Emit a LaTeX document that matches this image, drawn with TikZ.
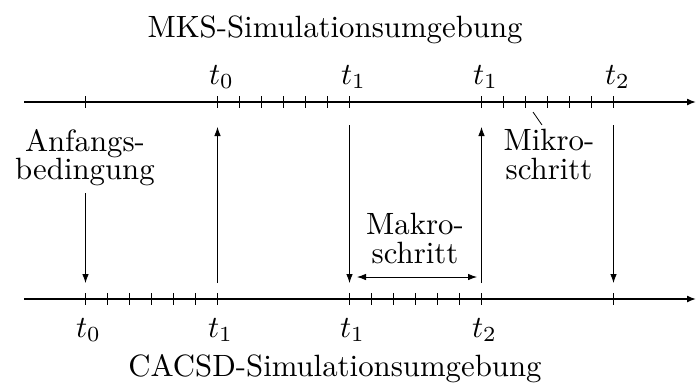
\documentclass[tikz,border=0pt]{standalone}
\usetikzlibrary{arrows.meta}
\begin{document}
\begin{tikzpicture}[x=1pt,y=-1pt,
  axis/.style={line width=1.5pt,-{Latex[length=9pt,width=7pt]}},
  tck/.style={line width=0.8pt},
  arr/.style={line width=0.8pt,-{Latex[length=9pt,width=6.5pt]}},
  darr/.style={line width=0.8pt,{Latex[length=9pt,width=6.5pt]}-{Latex[length=9pt,width=6.5pt]}},
  lbl/.style={font=\fontsize{10}{9.1}\selectfont,scale=3.08,transform shape,inner sep=0pt,align=center}]
\useasboundingbox (0,0) rectangle (696,383);
% axes
\coordinate (ta) at (24,102); \coordinate (te) at (696,102);
\coordinate (ba) at (24,299); \coordinate (be) at (696,299);
\draw[axis] (ta) -- (te);
\draw[axis] (ba) -- (be);
% top ticks
\foreach \x in {85.5,217.5,239.5,261.5,283.5,305.5,327.5,349.5,481.5,503.5,525.5,547.5,569.5,591.5,613.5}
  \draw[tck] (\x,96) -- (\x,108);
% bottom ticks
\foreach \x in {85.5,107.5,129.5,151.5,173.5,195.5,217.5,349.5,371.5,393.5,415.5,437.5,459.5,481.5,613.5}
  \draw[tck] (\x,293) -- (\x,305);
% titles
\node[lbl,anchor=base] (mks) at (335,37) {MKS-Simulationsumgebung};
\node[lbl,anchor=base] (cacsd) at (335,376.7) {CACSD-Simulationsumgebung};
% top labels
\node[lbl,anchor=base] (tt0) at (221.5,84) {$t_0$};
\node[lbl,anchor=base] (tt1) at (353.5,84) {$t_1$};
\node[lbl,anchor=base] (tt1b) at (485.5,84) {$t_1$};
\node[lbl,anchor=base] (tt2) at (617.5,84) {$t_2$};
% bottom labels
\node[lbl,anchor=base] (bt0) at (88.5,337) {$t_0$};
\node[lbl,anchor=base] (bt1) at (220.5,337) {$t_1$};
\node[lbl,anchor=base] (bt1b) at (352.5,337) {$t_1$};
\node[lbl,anchor=base] (bt2) at (484.5,337) {$t_2$};
% texts (base = baseline of last line)
\node[lbl,anchor=base] (anf) at (85,179.5) {Anfangs-\\bedingung};
\node[lbl,anchor=base] (makro) at (415,263) {Makro-\\schritt};
\node[lbl,anchor=base] (mikro) at (549,179) {Mikro-\\schritt};
% arrow endpoints
\coordinate (a0s) at (85.5,193); \coordinate (a0e) at (85.5,283);
\coordinate (a1s) at (217.5,283); \coordinate (a1e) at (217.5,127);
\coordinate (a2s) at (349.5,125); \coordinate (a2e) at (349.5,283);
\coordinate (a3s) at (481.5,283); \coordinate (a3e) at (481.5,127);
\coordinate (a4s) at (613.5,125); \coordinate (a4e) at (613.5,283);
\coordinate (ms) at (357,277); \coordinate (me) at (477,277);
\coordinate (mk1) at (533,112); \coordinate (mk2) at (542,125);
\draw[arr] (a0s) -- (a0e);
\draw[arr] (a1s) -- (a1e);
\draw[arr] (a2s) -- (a2e);
\draw[arr] (a3s) -- (a3e);
\draw[arr] (a4s) -- (a4e);
\draw[darr] (ms) -- (me);
\draw[tck] (mk1) -- (mk2);
\end{tikzpicture}
\end{document}
